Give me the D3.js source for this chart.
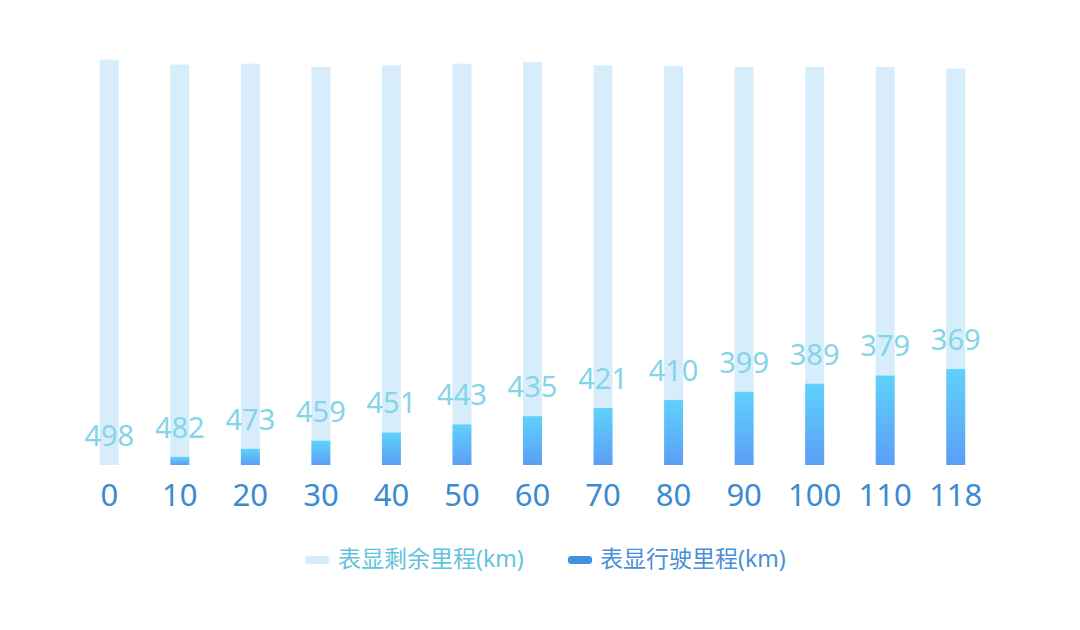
<!DOCTYPE html>
<html>
<head>
<meta charset="utf-8">
<script src="https://cdn.jsdelivr.net/npm/d3@7"></script>
<style>
  body { margin: 0; background: #fff; }
  text { font-family: "Noto Sans", "Noto Sans CJK SC", sans-serif; }
</style>
</head>
<body>
<script>
// Data.
var categories = ["0", "10", "20", "30", "40", "50", "60", "70", "80", "90", "100", "110", "118"];
var driven     = [0, 10, 20, 30, 40, 50, 60, 70, 80, 90, 100, 110, 118];
var remaining  = [498, 482, 473, 459, 451, 443, 435, 421, 410, 399, 389, 379, 369];
var seriesNames = ["表显剩余里程(km)", "表显行驶里程(km)"];

var width  = 1080,
    height = 630,
    barW   = 19;

var svg = d3.select("body")
    .append("svg")
    .attr("width", width)
    .attr("height", height);

// Gradient for the driven bars.
var defs = svg.append("defs");
var grad = defs.append("linearGradient")
    .attr("id", "drivenGrad")
    .attr("x1", 0).attr("y1", 0)
    .attr("x2", 0).attr("y2", 1);
grad.append("stop").attr("offset", "0%").attr("stop-color", "#5fd2fb");
grad.append("stop").attr("offset", "100%").attr("stop-color", "#5b9ef6");

var x = d3.scaleBand()
    .domain(categories)
    .range([74, 991]);

var y = d3.scaleLinear()
    .domain([0, 500])
    .range([465, 58]);

var rows = categories.map(function(c, i) {
    return { cat: c, driven: driven[i], remaining: remaining[i] };
});

var cx = function(d) { return x(d.cat) + x.bandwidth() / 2; };

// Remaining bars, stacked on top of driven.
svg.selectAll("rect.remain")
    .data(rows)
  .enter()
    .append("rect")
    .attr("class", "remain")
    .attr("x", function(d) { return cx(d) - barW / 2; })
    .attr("y", function(d) { return y(d.driven + d.remaining); })
    .attr("width", barW)
    .attr("height", function(d) { return y(d.driven) - y(d.driven + d.remaining); })
    .attr("fill", "#d8edfb");

// Driven bars.
svg.selectAll("rect.driven")
    .data(rows)
  .enter()
    .append("rect")
    .attr("class", "driven")
    .attr("x", function(d) { return cx(d) - barW / 2; })
    .attr("y", function(d) { return y(d.driven); })
    .attr("width", barW)
    .attr("height", function(d) { return y(0) - y(d.driven); })
    .attr("fill", "url(#drivenGrad)");

// Value labels for remaining.
svg.selectAll("text.val")
    .data(rows)
  .enter()
    .append("text")
    .attr("class", "val")
    .attr("x", cx)
    .attr("y", function(d) { return y(d.driven) - 19; })
    .attr("text-anchor", "middle")
    .attr("font-size", "29px")
    .attr("fill", "#84d5e8")
    .text(function(d) { return d.remaining; });

// X axis.
var axis = svg.append("g")
    .attr("transform", "translate(0," + y(0) + ")")
    .call(d3.axisBottom(x).tickSize(0));
axis.select(".domain").remove();
axis.selectAll("text")
    .attr("y", 41)
    .attr("dy", null)
    .attr("font-size", "31px")
    .attr("font-family", "\"Noto Sans\", sans-serif")
    .attr("fill", "#3a8bd3");

// Legend.
var legend = [
    { name: seriesNames[0], sx: 305, tx: 338, swatch: "#d8edfb", color: "#62c3dd" },
    { name: seriesNames[1], sx: 568, tx: 600, swatch: "#3f93e2", color: "#4a8fd8" }
];
var lg = svg.selectAll("g.legend")
    .data(legend)
  .enter()
    .append("g")
    .attr("class", "legend");
lg.append("rect")
    .attr("x", function(d) { return d.sx; })
    .attr("y", 556)
    .attr("width", 24)
    .attr("height", 8)
    .attr("rx", 3)
    .attr("fill", function(d) { return d.swatch; });
lg.append("text")
    .attr("x", function(d) { return d.tx; })
    .attr("y", 567)
    .attr("font-size", "23px")
    .attr("fill", function(d) { return d.color; })
    .text(function(d) { return d.name; });
</script>
</body>
</html>
